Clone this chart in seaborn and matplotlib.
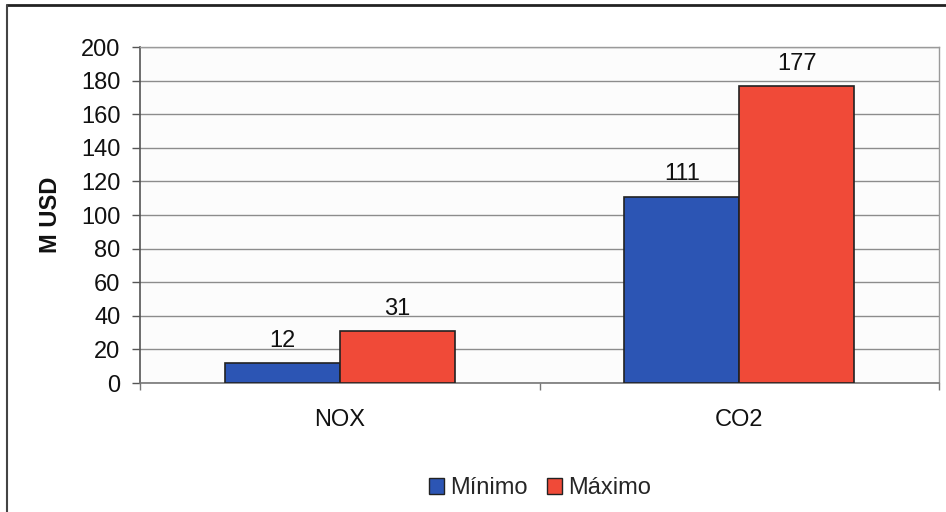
import matplotlib
matplotlib.use("Agg")
import matplotlib.pyplot as plt
from matplotlib.lines import Line2D
from matplotlib.patches import Patch
import pandas as pd
import seaborn as sns

categories = ["NOX", "CO2"]
series_names = ["Mínimo", "Máximo"]
minimo = [12, 111]
maximo = [31, 177]
y_ticks = [0, 20, 40, 60, 80, 100, 120, 140, 160, 180, 200]

colors = {"Mínimo": "#2c55b4", "Máximo": "#f04a38"}

df = pd.DataFrame({
    "categoria": categories * 2,
    "serie": [series_names[0]] * len(categories) + [series_names[1]] * len(categories),
    "valor": minimo + maximo,
})

sns.set_theme(style="white")
plt.rcParams["font.family"] = ["Liberation Sans", "DejaVu Sans"]

W, H = 946, 512
fig = plt.figure(figsize=(W / 100, H / 100), dpi=100)
ax = fig.add_axes([140 / W, 1 - 383 / H, (939 - 140) / W, (383 - 47) / H])
ax.set_facecolor("#fcfcfc")

sns.barplot(data=df, x="categoria", y="valor", hue="serie", order=categories,
            hue_order=series_names, palette=colors, width=0.575, dodge=True,
            edgecolor="#222222", linewidth=1.2, saturation=1, ax=ax, zorder=3)

ax.set_xlim(-0.5, 1.5)
ax.set_ylim(0, 200)
ax.set_yticks(y_ticks)
ax.set_yticklabels([str(t) for t in y_ticks], fontsize=17, color="#111111")
ax.grid(axis="y", color="#8c8c8c", linewidth=1.0, zorder=0)
ax.set_axisbelow(True)

ax.tick_params(axis="y", which="major", left=True, length=6, width=1,
               color="#555555", pad=8)
ax.tick_params(axis="x", which="major", bottom=False, labelsize=17,
               labelcolor="#111111", pad=13)
ax.set_xticks([-0.5, 0.5, 1.5], minor=True)
ax.tick_params(axis="x", which="minor", bottom=True, length=5, width=1,
               color="#777777")
ax.set_xlabel("")
ax.set_ylabel("M USD", fontsize=17, fontweight="bold", labelpad=14, color="#111111")

ax.spines["left"].set_color("#555555")
ax.spines["left"].set_linewidth(1.2)
ax.spines["bottom"].set_color("#777777")
ax.spines["bottom"].set_linewidth(1.2)
for side in ["top", "right"]:
    ax.spines[side].set_color("#9a9a9a")
    ax.spines[side].set_linewidth(1.0)

# value labels above each bar
for cont in ax.containers:
    ax.bar_label(cont, labels=[f"{v:.0f}" for v in cont.datavalues],
                 padding=8, fontsize=17, color="#111111")

leg = ax.get_legend()
if leg is not None:
    leg.remove()
handles = [Patch(facecolor=colors[s], edgecolor="#222222", linewidth=1.0)
           for s in series_names]
fig.legend(handles, series_names, loc="center", bbox_to_anchor=(540 / W, 1 - 488 / H),
           ncol=2, frameon=False, fontsize=17, handlelength=0.65, handleheight=0.65,
           handletextpad=0.25, columnspacing=0.8)

# chart frame lines (top and left)
fig.add_artist(Line2D([7 / W, 1.0], [1 - 5 / H, 1 - 5 / H], transform=fig.transFigure,
                      color="#222222", linewidth=2))
fig.add_artist(Line2D([7 / W, 7 / W], [0.0, 1 - 5 / H], transform=fig.transFigure,
                      color="#444444", linewidth=1.5))

fig.savefig("out.png", dpi=100, facecolor="white")
